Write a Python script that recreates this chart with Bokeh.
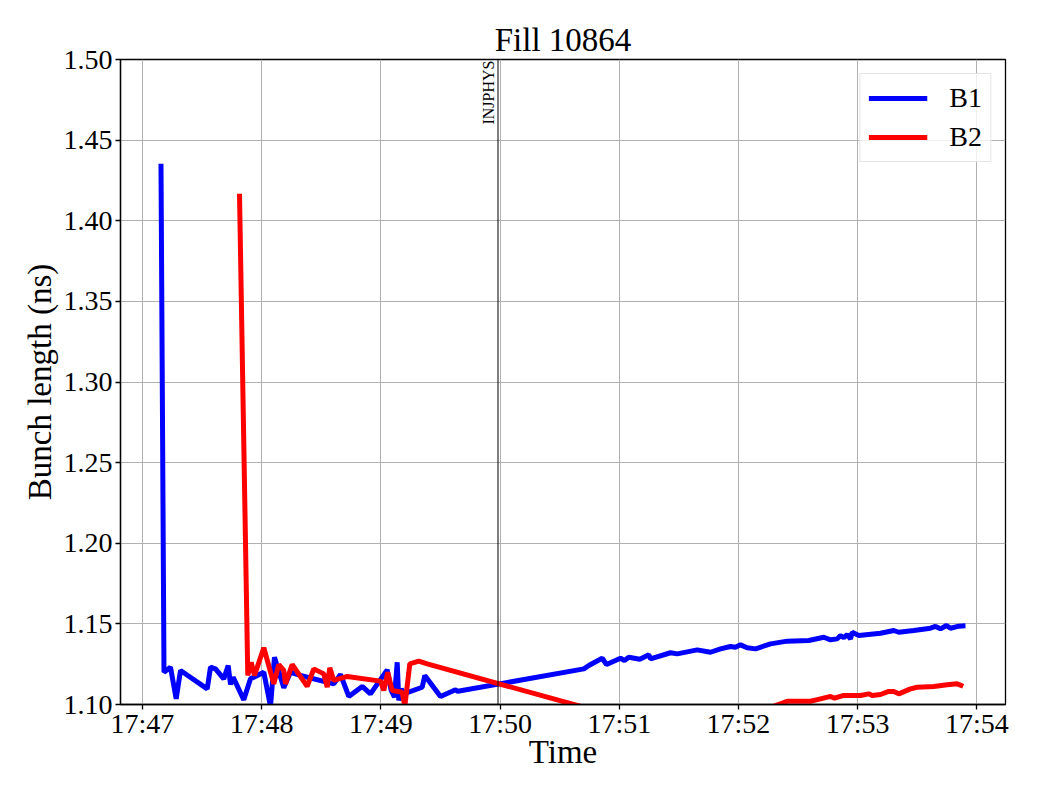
import pandas as pd
from bokeh.plotting import figure
from bokeh.models import (Range1d, FixedTicker, DatetimeTickFormatter,
                          NumeralTickFormatter, Span, Label)
from bokeh.embed import file_html
from bokeh.resources import INLINE

# ---------------- data ----------------
day = "2025-06-01"
t0 = "17:47:00"
title_text = "Fill 10864"
x_label = "Time"
y_label = "Bunch length (ns)"
series_names = ["B1", "B2"]
series_colors = ["#0000ff", "#ff0000"]

# seconds after 17:47:00
b1_sec = [9.31, 10.82, 14.09, 16.96, 19.13, 32.57, 34.23, 36.75, 40.92, 43.14,
          44.30, 45.65, 50.99, 54.36, 61.06, 64.43, 66.44, 71.12, 74.50, 79.53,
          96.29, 99.67, 103.84, 110.59, 114.77, 123.17, 125.19, 126.85, 128.21, 129.01,
          130.22, 131.53, 140.79, 142.10, 150.00, 157.55, 158.71, 222.14, 224.65, 231.40,
          233.56, 240.61, 242.62, 244.78, 250.32, 254.85, 255.71, 265.77, 269.15, 279.21,
          285.91, 290.94, 295.98, 298.49, 301.01, 304.38, 308.56, 316.11, 324.52, 335.39,
          342.94, 346.31, 349.68, 351.34, 353.00, 354.72, 356.38, 357.23, 360.56, 371.48,
          378.17, 380.69, 388.24, 396.65, 399.16, 401.68, 404.70, 406.71, 410.89, 414.26]
b1_val = [1.4353, 1.1200, 1.1231, 1.1035, 1.1211, 1.1097, 1.1231, 1.1221, 1.1159, 1.1242,
          1.1124, 1.1169, 1.1029, 1.1159, 1.1200, 1.0988, 1.1293, 1.1104, 1.1200, 1.1180,
          1.1128, 1.1186, 1.1050, 1.1112, 1.1066, 1.1215, 1.1087, 1.1045, 1.1262, 1.1025,
          1.1097, 1.1066, 1.1107, 1.1180, 1.1050, 1.1091, 1.1082, 1.1221, 1.1242, 1.1287,
          1.1248, 1.1287, 1.1273, 1.1293, 1.1281, 1.1308, 1.1283, 1.1321, 1.1314, 1.1339,
          1.1324, 1.1345, 1.1360, 1.1355, 1.1370, 1.1352, 1.1345, 1.1376, 1.1393, 1.1397,
          1.1417, 1.1401, 1.1407, 1.1428, 1.1414, 1.1434, 1.1407, 1.1448, 1.1428, 1.1442,
          1.1459, 1.1448, 1.1459, 1.1473, 1.1484, 1.1469, 1.1490, 1.1473, 1.1486, 1.1488]

b2_sec = [48.83, 53.00, 54.71, 56.38, 61.06, 66.09, 68.61, 71.12, 71.98, 75.35,
          82.90, 86.23, 91.26, 92.97, 94.28, 96.29, 103.04, 119.80, 121.46, 123.47,
          125.69, 130.72, 132.03, 134.55, 139.08, 143.31, 275.84, 324.52, 336.25, 341.28,
          346.31, 348.33, 353.00, 361.40, 365.58, 367.29, 371.48, 375.66, 378.17, 380.69,
          386.57, 389.95, 398.30, 405.05, 410.08, 413.10]
b2_val = [1.4167, 1.1180, 1.1262, 1.1180, 1.1352, 1.1128, 1.1248, 1.1211, 1.1128, 1.1248,
          1.1112, 1.1221, 1.1190, 1.1107, 1.1228, 1.1149, 1.1174, 1.1145, 1.1087, 1.1200,
          1.1087, 1.1076, 1.0988, 1.1252, 1.1269, 1.1252, 1.0800, 1.1020, 1.1020, 1.1035,
          1.1050, 1.1039, 1.1056, 1.1056, 1.1066, 1.1056, 1.1062, 1.1081, 1.1081, 1.1066,
          1.1097, 1.1107, 1.1112, 1.1122, 1.1128, 1.1113]

x_tick_labels = ["17:47", "17:48", "17:49", "17:50", "17:51", "17:52", "17:53", "17:54"]
y_ticks = [1.10, 1.15, 1.20, 1.25, 1.30, 1.35, 1.40, 1.45, 1.50]
x_start_sec, x_end_sec = -11.07, 434.4
y_start, y_end = 1.10, 1.50
marker_sec = 178.95
marker_text = "INJPHYS"

# ---------------- helpers ----------------
base = pd.Timestamp(f"{day} {t0}")


def to_dt(secs):
    return [base + pd.Timedelta(seconds=s) for s in secs]


def to_ms(ts):
    return pd.Timestamp(ts).value / 1e6


FONT = "Liberation Serif"

p = figure(width=1024, height=784, output_backend="svg", toolbar_location=None,
           x_axis_type="datetime",
           x_range=Range1d(to_ms(base + pd.Timedelta(seconds=x_start_sec)),
                           to_ms(base + pd.Timedelta(seconds=x_end_sec))),
           y_range=Range1d(y_start, y_end),
           min_border_left=120, min_border_right=19, min_border_top=59,
           min_border_bottom=80)

p.title.text = title_text
p.title.align = "center"
p.title.text_font = FONT
p.title.text_font_size = "33px"
p.title.text_font_style = "normal"
p.title.text_color = "black"
p.title.standoff = 4

for name, col, secs, vals in [(series_names[0], series_colors[0], b1_sec, b1_val),
                              (series_names[1], series_colors[1], b2_sec, b2_val)]:
    p.line(to_dt(secs), vals, line_color=col, line_width=5, legend_label=name)

# marker line
mx = to_ms(base + pd.Timedelta(seconds=marker_sec))
p.add_layout(Span(location=mx, dimension="height", line_color="black", line_width=1))
p.add_layout(Label(x=mx, y=y_end, text=marker_text, angle=90, angle_units="deg",
                   text_align="right", text_baseline="bottom", x_offset=-1, y_offset=-1,
                   text_font=FONT, text_font_size="16px", text_color="black"))

# axes
tick_ms = [to_ms(pd.Timestamp(f"{day} {t}")) for t in x_tick_labels]
p.xaxis.ticker = FixedTicker(ticks=tick_ms)
fmt = "%H:%M"
p.xaxis.formatter = DatetimeTickFormatter(seconds=fmt, minsec=fmt, minutes=fmt,
                                          hourmin=fmt, hours=fmt)
p.yaxis.ticker = FixedTicker(ticks=y_ticks)
p.yaxis.formatter = NumeralTickFormatter(format="0.00")
p.xaxis.axis_label = x_label
p.yaxis.axis_label = y_label

for ax in (p.xaxis, p.yaxis):
    ax.axis_label_text_font = FONT
    ax.axis_label_text_font_size = "33px"
    ax.axis_label_text_font_style = "normal"
    ax.axis_label_text_color = "black"
    ax.major_label_text_font = FONT
    ax.major_label_text_font_size = "28px"
    ax.major_label_text_color = "black"
    ax.axis_line_color = "black"
    ax.axis_line_width = 1.3
    ax.major_tick_line_color = "black"
    ax.major_tick_line_width = 1.3
    ax.major_tick_out = 5
    ax.major_tick_in = 0
    ax.minor_tick_line_color = None
    ax.major_label_standoff = 3
    ax.axis_label_standoff = 3

p.xaxis.major_label_standoff = -2
p.xaxis.axis_label_standoff = -8

p.outline_line_color = "black"
p.outline_line_width = 1.3
p.grid.grid_line_color = "#b0b0b0"
p.grid.grid_line_width = 1
p.xgrid.ticker = FixedTicker(ticks=tick_ms)
p.ygrid.ticker = FixedTicker(ticks=y_ticks)
p.background_fill_color = "white"
p.border_fill_color = "white"

lg = p.legend[0]
lg.location = "top_right"
lg.margin = 14
lg.padding = 8
lg.spacing = 7
lg.glyph_width = 59
lg.glyph_height = 28
lg.label_standoff = 22
lg.label_text_font = FONT
lg.label_text_font_size = "28px"
lg.label_text_color = "black"
lg.border_line_color = "#cccccc"
lg.border_line_width = 1
lg.background_fill_alpha = 0.8

open("out.html", "w").write(file_html(p, INLINE))
